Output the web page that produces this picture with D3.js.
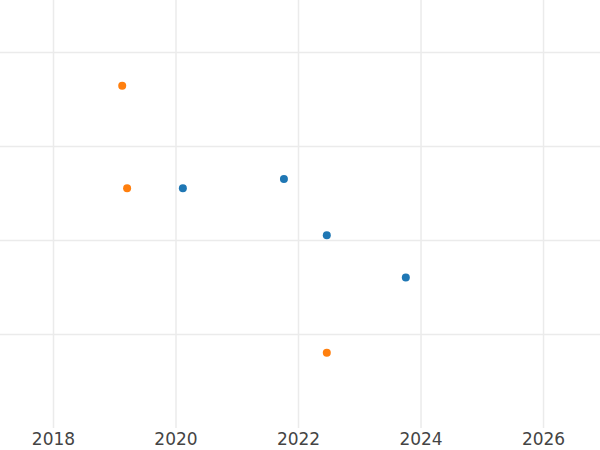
<!DOCTYPE html>
<meta charset="utf-8">
<script src="https://d3js.org/d3.v7.min.js"></script>
<style>
body { margin: 0; background: #fff; }
.grid line { stroke: #ebebeb; stroke-width: 1.5; }
.grid path { display: none; }
.xaxis text { font-family: "DejaVu Sans", sans-serif; font-size: 17px; fill: #444; }
.xaxis path, .xaxis line { display: none; }
</style>
<body>
<div id="canvas"></div>
<script>
// data
var blueYears = [2020.12, 2021.77, 2022.47, 2023.76];
var blueValues = [2.55, 2.65, 2.05, 1.6];
var orangeYears = [2019.13, 2019.21, 2022.47];
var orangeValues = [3.64, 2.55, 0.8];
var xTicks = [2018, 2020, 2022, 2024, 2026];
var yTicks = [1, 2, 3, 4];

var width = 600, height = 450, plotBottom = 428;

var svg = d3.select('#canvas').append('svg')
    .attr('width', width).attr('height', height);

var x = d3.scaleLinear().domain([2017.135, 2026.93]).range([0, width]);
var y = d3.scaleLinear().domain([0, 4]).range([plotBottom, 52]);

// grid lines
svg.append('g').attr('class', 'grid')
    .call(d3.axisLeft(y).tickValues(yTicks).tickSize(-width).tickFormat(''));
svg.append('g').attr('class', 'grid')
    .attr('transform', 'translate(0,' + plotBottom + ')')
    .call(d3.axisBottom(x).tickValues(xTicks).tickSize(-plotBottom).tickFormat(''));

// x axis labels
svg.append('g').attr('class', 'xaxis')
    .attr('transform', 'translate(0,' + plotBottom + ')')
    .call(d3.axisBottom(x).tickValues(xTicks).tickSize(0).tickPadding(5).tickFormat(d3.format('d')));

function dots(years, values, color) {
    svg.append('g').selectAll('circle')
        .data(years)
        .enter().append('circle')
        .attr('cx', function(d) { return x(d); })
        .attr('cy', function(d, i) { return y(values[i]); })
        .attr('r', 4)
        .attr('fill', color);
}
dots(blueYears, blueValues, '#1f77b4');
dots(orangeYears, orangeValues, '#ff7f0e');
</script>
</body>
